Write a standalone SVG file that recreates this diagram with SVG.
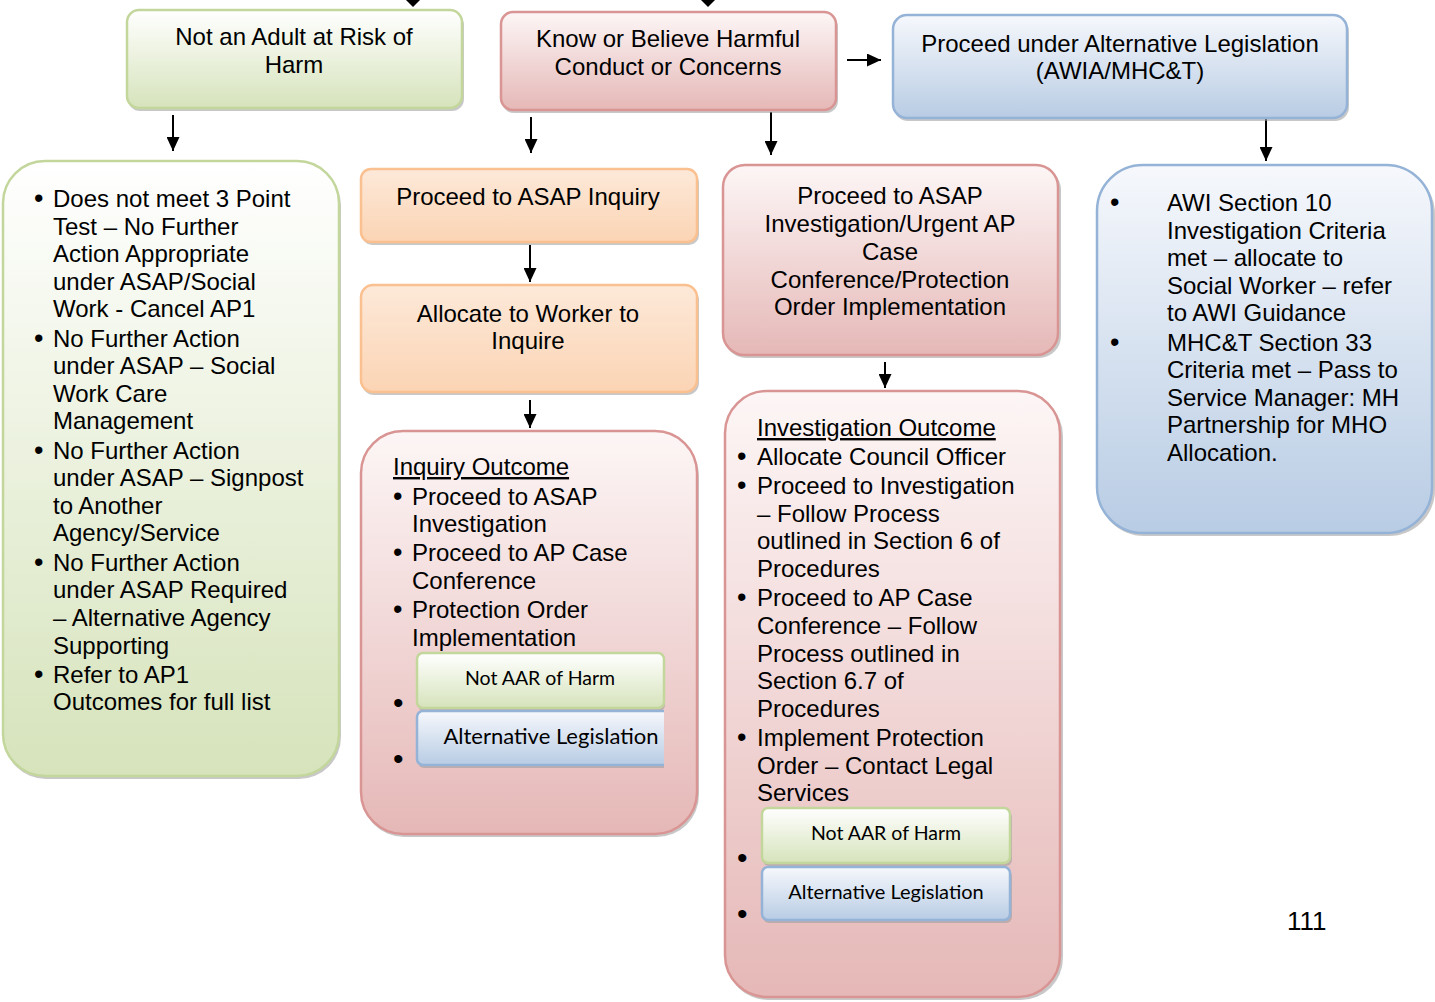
<svg xmlns="http://www.w3.org/2000/svg" width="1435" height="1002" viewBox="0 0 1435 1002">
<defs>
<linearGradient id="gGreen" x1="0" y1="0" x2="0" y2="1"><stop offset="0" stop-color="#ffffff"/><stop offset="1" stop-color="#d6e3bb"/></linearGradient>
<linearGradient id="gPink" x1="0" y1="0" x2="0" y2="1"><stop offset="0" stop-color="#fdf6f6"/><stop offset="1" stop-color="#e5b8b7"/></linearGradient>
<linearGradient id="gBlue" x1="0" y1="0" x2="0" y2="1"><stop offset="0" stop-color="#f6f8fc"/><stop offset="1" stop-color="#b8cce4"/></linearGradient>
<linearGradient id="gOrange" x1="0" y1="0" x2="0" y2="1"><stop offset="0" stop-color="#fde9d9"/><stop offset="1" stop-color="#fbd4b4"/></linearGradient>
<clipPath id="clipAlt"><rect x="410" y="705" width="254" height="70"/></clipPath>
<marker id="arr" markerWidth="14" markerHeight="13" refX="14" refY="6.5" orient="auto" markerUnits="userSpaceOnUse"><path d="M0,0 L14,6.5 L0,13 Z" fill="#000"/></marker>
</defs>
<style>
.sh{fill:#9a9a9a;opacity:0.55}
.green{fill:url(#gGreen);stroke:#c3d69b;stroke-width:2.5}
.pink{fill:url(#gPink);stroke:#d99594;stroke-width:2.5}
.blue{fill:url(#gBlue);stroke:#95b3d7;stroke-width:2.5}
.orange{fill:url(#gOrange);stroke:#fac090;stroke-width:2.5}
.t{font-family:"Liberation Sans",Arial,sans-serif;font-size:24px;fill:#000}
.c{text-anchor:middle}
.s{font-family:Lato,"Open Sans",sans-serif;font-size:19.5px;fill:#000;text-anchor:middle}
.b{font-size:30px}
.m{font-size:27px}
.u{text-decoration:underline}
.ln{stroke:#000;stroke-width:2;fill:none}
</style>
<rect width="1435" height="1002" fill="#ffffff"/>

<g id="connectors">
<polygon points="406,0 420,0 413,7" fill="#000"/>
<polygon points="701,0 715,0 708,7" fill="#000"/>
<line class="ln" x1="847" y1="60" x2="881" y2="60" marker-end="url(#arr)"/>
<line class="ln" x1="173" y1="115" x2="173" y2="151" marker-end="url(#arr)"/>
<line class="ln" x1="531" y1="117" x2="531" y2="153" marker-end="url(#arr)"/>
<line class="ln" x1="771" y1="112" x2="771" y2="155" marker-end="url(#arr)"/>
<line class="ln" x1="1266" y1="118" x2="1266" y2="161" marker-end="url(#arr)"/>
<line class="ln" x1="530" y1="245" x2="530" y2="282" marker-end="url(#arr)"/>
<line class="ln" x1="530" y1="400" x2="530" y2="428" marker-end="url(#arr)"/>
<line class="ln" x1="885" y1="362" x2="885" y2="388" marker-end="url(#arr)"/>
</g>

<g id="node-not-adult">
<rect class="sh" x="128" y="13" width="336" height="98" rx="12"/>
<rect class="green" x="127" y="10" width="335" height="98" rx="12"/>
<text class="t c" x="294"><tspan x="294" y="45">Not an Adult at Risk of</tspan><tspan x="294" y="73">Harm</tspan></text>
</g>

<g id="node-know-believe">
<rect class="sh" x="502" y="15" width="336" height="98" rx="12"/>
<rect class="pink" x="501" y="12" width="335" height="98" rx="12"/>
<text class="t c"><tspan x="668" y="47">Know or Believe Harmful</tspan><tspan x="668" y="75">Conduct or Concerns</tspan></text>
</g>

<g id="node-alt-legislation">
<rect class="sh" x="894" y="18" width="455" height="103" rx="14"/>
<rect class="blue" x="893" y="15" width="454" height="103" rx="14"/>
<text class="t c"><tspan x="1120" y="52">Proceed under Alternative Legislation</tspan><tspan x="1120" y="79">(AWIA/MHC&amp;T)</tspan></text>
</g>

<g id="node-no-further-action">
<rect class="sh" x="4" y="164" width="337" height="615" rx="42"/>
<rect class="green" x="3" y="161" width="336" height="615" rx="42"/>
<text class="t">
<tspan x="34" y="207" class="m">•</tspan><tspan x="53" y="207">Does not meet 3 Point</tspan>
<tspan x="53" y="235">Test – No Further</tspan>
<tspan x="53" y="262">Action Appropriate</tspan>
<tspan x="53" y="290">under ASAP/Social</tspan>
<tspan x="53" y="317">Work - Cancel AP1</tspan>
<tspan x="34" y="347" class="m">•</tspan><tspan x="53" y="347">No Further Action</tspan>
<tspan x="53" y="374">under ASAP – Social</tspan>
<tspan x="53" y="402">Work Care</tspan>
<tspan x="53" y="429">Management</tspan>
<tspan x="34" y="459" class="m">•</tspan><tspan x="53" y="459">No Further Action</tspan>
<tspan x="53" y="486">under ASAP – Signpost</tspan>
<tspan x="53" y="514">to Another</tspan>
<tspan x="53" y="541">Agency/Service</tspan>
<tspan x="34" y="571" class="m">•</tspan><tspan x="53" y="571">No Further Action</tspan>
<tspan x="53" y="598">under ASAP Required</tspan>
<tspan x="53" y="626">– Alternative Agency</tspan>
<tspan x="53" y="654">Supporting</tspan>
<tspan x="34" y="683" class="m">•</tspan><tspan x="53" y="683">Refer to AP1</tspan>
<tspan x="53" y="710">Outcomes for full list</tspan>
</text>
</g>

<g id="node-asap-inquiry">
<rect class="sh" x="362" y="172" width="337" height="73" rx="10"/>
<rect class="orange" x="361" y="169" width="336" height="73" rx="10"/>
<text class="t c"><tspan x="528" y="205">Proceed to ASAP Inquiry</tspan></text>
</g>

<g id="node-allocate-worker">
<rect class="sh" x="362" y="288" width="337" height="107" rx="12"/>
<rect class="orange" x="361" y="285" width="336" height="107" rx="12"/>
<text class="t c"><tspan x="528" y="322">Allocate to Worker to</tspan><tspan x="528" y="349">Inquire</tspan></text>
</g>

<g id="node-inquiry-outcome">
<rect class="sh" x="362" y="434" width="337" height="403" rx="42"/>
<rect class="pink" x="361" y="431" width="336" height="403" rx="42"/>
<text class="t">
<tspan x="393" y="475" class="u">Inquiry Outcome</tspan>
<tspan x="393" y="505" class="m">•</tspan><tspan x="412" y="505">Proceed to ASAP</tspan>
<tspan x="412" y="532">Investigation</tspan>
<tspan x="393" y="561" class="m">•</tspan><tspan x="412" y="561">Proceed to AP Case</tspan>
<tspan x="412" y="589">Conference</tspan>
<tspan x="393" y="618" class="m">•</tspan><tspan x="412" y="618">Protection Order</tspan>
<tspan x="412" y="646">Implementation</tspan>
<tspan x="393" y="713" class="b">•</tspan>
<tspan x="393" y="769" class="b">•</tspan>
</text>
<g id="node-inquiry-not-aar">
<rect class="sh" x="418" y="656" width="247" height="55" rx="6"/>
<rect class="green" x="417" y="653" width="247" height="55" rx="6"/>
<text class="s" x="540" y="685">Not AAR of Harm</text>
</g>
<g id="node-inquiry-alt-leg" clip-path="url(#clipAlt)">
<rect class="sh" x="418" y="714" width="260" height="54" rx="6"/>
<rect class="blue" x="417" y="711" width="260" height="54" rx="6"/>
<text class="s" x="551" y="744" style="font-size:22px">Alternative Legislation</text>
</g>
</g>

<g id="node-asap-investigation">
<rect class="sh" x="724" y="168" width="337" height="190" rx="22"/>
<rect class="pink" x="723" y="165" width="335" height="190" rx="22"/>
<text class="t c"><tspan x="890" y="204">Proceed to ASAP</tspan><tspan x="890" y="232">Investigation/Urgent AP</tspan><tspan x="890" y="260">Case</tspan><tspan x="890" y="288">Conference/Protection</tspan><tspan x="890" y="315">Order Implementation</tspan></text>
</g>

<g id="node-investigation-outcome">
<rect class="sh" x="726" y="394" width="337" height="606" rx="42"/>
<rect class="pink" x="725" y="391" width="335" height="606" rx="42"/>
<text class="t">
<tspan x="757" y="436" class="u">Investigation Outcome</tspan>
<tspan x="737" y="465" class="m">•</tspan><tspan x="757" y="465">Allocate Council Officer</tspan>
<tspan x="737" y="494" class="m">•</tspan><tspan x="757" y="494">Proceed to Investigation</tspan>
<tspan x="757" y="522">– Follow Process</tspan>
<tspan x="757" y="549">outlined in Section 6 of</tspan>
<tspan x="757" y="577">Procedures</tspan>
<tspan x="737" y="606" class="m">•</tspan><tspan x="757" y="606">Proceed to AP Case</tspan>
<tspan x="757" y="634">Conference – Follow</tspan>
<tspan x="757" y="662">Process outlined in</tspan>
<tspan x="757" y="689">Section 6.7 of</tspan>
<tspan x="757" y="717">Procedures</tspan>
<tspan x="737" y="746" class="m">•</tspan><tspan x="757" y="746">Implement Protection</tspan>
<tspan x="757" y="774">Order – Contact Legal</tspan>
<tspan x="757" y="801">Services</tspan>
<tspan x="737" y="868" class="b">•</tspan>
<tspan x="737" y="924" class="b">•</tspan>
</text>
<g id="node-investigation-not-aar">
<rect class="sh" x="763" y="811" width="249" height="55" rx="6"/>
<rect class="green" x="762" y="808" width="248" height="55" rx="6"/>
<text class="s" x="886" y="840">Not AAR of Harm</text>
</g>
<g id="node-investigation-alt-leg">
<rect class="sh" x="763" y="870" width="249" height="53" rx="6"/>
<rect class="blue" x="762" y="867" width="248" height="53" rx="6"/>
<text class="s" x="886" y="899" style="font-size:20px">Alternative Legislation</text>
</g>
</g>

<g id="node-awi-mhct">
<rect class="sh" x="1098" y="168" width="337" height="368" rx="46"/>
<rect class="blue" x="1097" y="165" width="335" height="368" rx="46"/>
<text class="t">
<tspan x="1110" y="211" class="m">•</tspan><tspan x="1167" y="211">AWI Section 10</tspan>
<tspan x="1167" y="239">Investigation Criteria</tspan>
<tspan x="1167" y="266">met – allocate to</tspan>
<tspan x="1167" y="294">Social Worker – refer</tspan>
<tspan x="1167" y="321">to AWI Guidance</tspan>
<tspan x="1110" y="351" class="m">•</tspan><tspan x="1167" y="351">MHC&amp;T Section 33</tspan>
<tspan x="1167" y="378">Criteria met – Pass to</tspan>
<tspan x="1167" y="406">Service Manager: MH</tspan>
<tspan x="1167" y="433">Partnership for MHO</tspan>
<tspan x="1167" y="461">Allocation.</tspan>
</text>
</g>

<text class="t" x="1287" y="930" style="font-size:26px">111</text>
</svg>
